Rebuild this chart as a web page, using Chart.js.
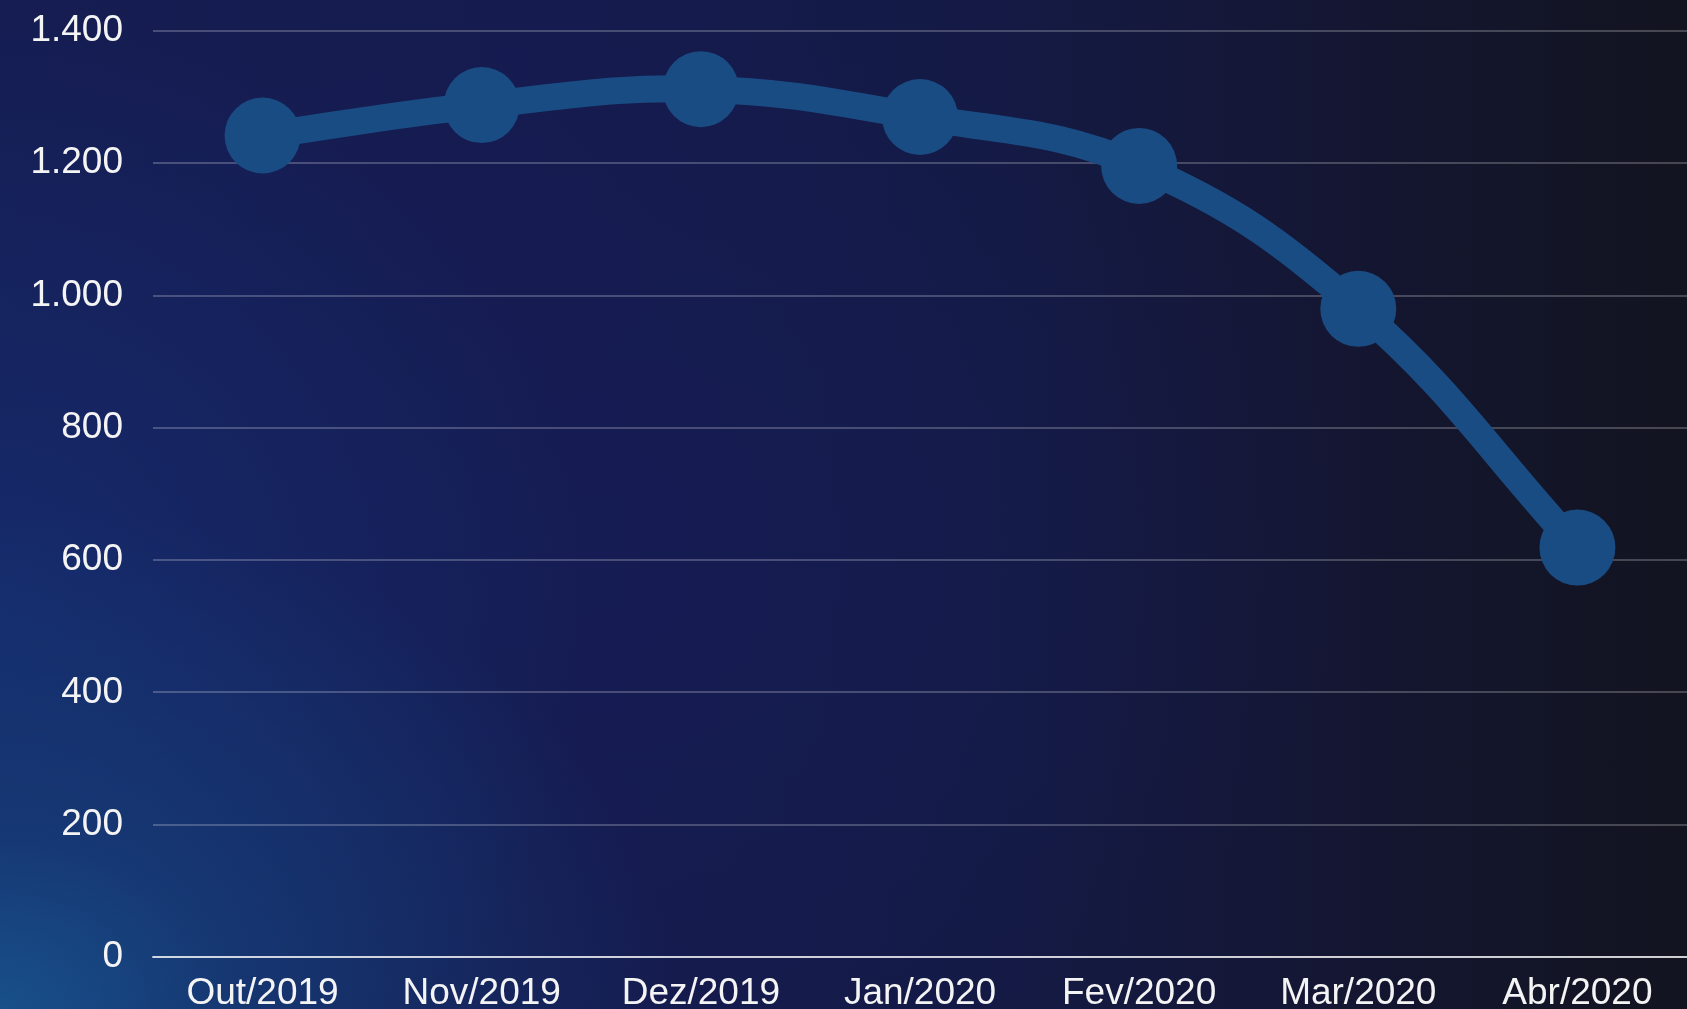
<!DOCTYPE html>
<html>
<head>
<meta charset="utf-8">
<script src="https://cdn.jsdelivr.net/npm/chart.js@4"></script>
<style>
  html, body { margin: 0; padding: 0; width: 1687px; height: 1009px; overflow: hidden; }
  body {
    background:
      radial-gradient(ellipse 40% 50% at 0% 100%, rgba(24,80,138,1) 0%, rgba(22,62,122,0.75) 35%, rgba(20,40,100,0) 100%),
      radial-gradient(ellipse 35% 60% at 0% 60%, rgba(22,46,115,0.75) 0%, rgba(22,40,105,0) 100%),
      radial-gradient(ellipse 45% 55% at 35% 55%, rgba(22,30,90,0.5) 0%, rgba(22,30,90,0) 100%),
      linear-gradient(to right, #151d52 0%, #151b4e 35%, #141a44 60%, #141632 80%, #121420 100%);
  }
  #wrap { position: absolute; left: 0; top: 0; width: 1687px; height: 1009px; }
</style>
</head>
<body>
<div id="wrap"><canvas id="c"></canvas></div>
<script>
const categories = ["Out/2019", "Nov/2019", "Dez/2019", "Jan/2020", "Fev/2020", "Mar/2020", "Abr/2020"];
const values = [1242, 1288, 1312, 1270, 1196, 980, 619];
const yTicks = [0, 200, 400, 600, 800, 1000, 1200, 1400];

function fmt(v) {
  return String(v).replace(/\B(?=(\d{3})+(?!\d))/g, ".");
}

const ctx = document.getElementById("c").getContext("2d");
new Chart(ctx, {
  type: "line",
  data: {
    labels: categories,
    datasets: [{
      data: values,
      borderColor: "#1a4c84",
      backgroundColor: "#1a4c84",
      borderWidth: 27,
      pointRadius: 38,
      pointHoverRadius: 38,
      pointBackgroundColor: "#1a4c84",
      pointBorderWidth: 0,
      tension: 0.4,
      fill: false
    }]
  },
  options: {
    responsive: true,
    maintainAspectRatio: false,
    animation: false,
    layout: { autoPadding: false, padding: { left: 0, right: 0, top: 31, bottom: 0 } },
    plugins: { legend: { display: false }, tooltip: { enabled: false } },
    scales: {
      x: {
        offset: true,
        grid: { display: false, drawTicks: false },
        border: { display: true, color: "rgba(255,255,255,0.55)", width: 2 },
        afterFit: (s) => { s.height = 52; s.paddingLeft = 0; s.paddingRight = 0; },
        ticks: {
          color: "#f4f4f4",
          font: { family: "'Liberation Sans', Arial, sans-serif", size: 37 },
          padding: 15,
          maxRotation: 0,
          autoSkip: false
        }
      },
      y: {
        min: 0,
        max: 1400,
        afterBuildTicks: (axis) => { axis.ticks = yTicks.map(v => ({ value: v })); },
        afterFit: (s) => { s.width = 153; s.paddingTop = 0; s.paddingBottom = 0; },
        grid: {
          drawTicks: false,
          color: (c) => c.tick && c.tick.value === 0 ? "rgba(255,255,255,0.55)" : "rgba(255,255,255,0.22)",
          lineWidth: 2
        },
        border: { display: false },
        ticks: {
          color: "#f4f4f4",
          font: { family: "'Liberation Sans', Arial, sans-serif", size: 37 },
          padding: 30,
          callback: (v) => fmt(v)
        }
      }
    }
  }
});
</script>
</body>
</html>
